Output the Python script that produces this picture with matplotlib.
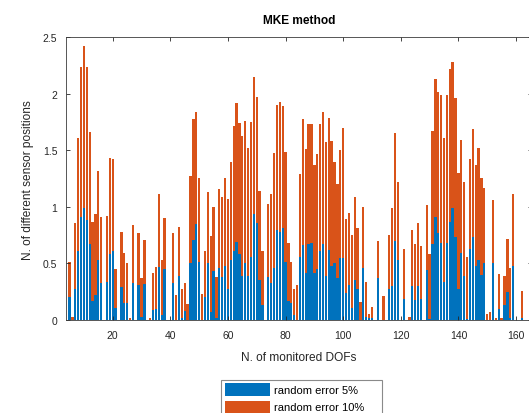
import numpy as np
import matplotlib.pyplot as plt

plt.rcParams['font.family'] = ['Liberation Sans', 'DejaVu Sans']

# monitored DOFs (5 ... 162)
dofs = np.arange(5, 163)

# stacked segments
err5 = [0.20, 0.00, 0.27, 0.61, 0.91, 0.99, 0.88, 0.67, 0.17, 0.22,
        0.53, 0.33, 0.00, 0.34, 0.58, 0.61, 0.11, 0.00, 0.29, 0.15,
        0.15, 0.00, 0.33, 0.00, 0.31, 0.03, 0.32, 0.00, 0.00, 0.09,
        0.10, 0.47, 0.04, 0.45, 0.00, 0.00, 0.33, 0.00, 0.39, 0.02,
        0.08, 0.00, 0.50, 0.71, 0.85, 0.51, 0.00, 0.20, 0.50, 0.07,
        0.43, 0.02, 0.46, 0.38, 0.48, 0.27, 0.53, 0.61, 0.69, 0.58,
        0.39, 0.50, 0.39, 0.56, 0.94, 0.86, 0.35, 0.13, 0.00, 0.38,
        0.33, 0.46, 0.80, 0.78, 0.81, 0.51, 0.17, 0.15, 0.04, 0.00,
        0.56, 0.66, 0.42, 0.67, 0.68, 0.42, 0.45, 0.61, 0.67, 0.39,
        0.62, 0.48, 0.50, 0.37, 0.55, 0.55, 0.24, 0.31, 0.11, 0.35,
        0.27, 0.00, 0.46, 0.03, 0.02, 0.015, 0.00, 0.37, 0.00, 0.00,
        0.00, 0.27, 0.30, 0.70, 0.53, 0.00, 0.19, 0.00, 0.00, 0.30,
        0.18, 0.30, 0.19, 0.00, 0.44, 0.01, 0.67, 0.91, 0.77, 0.68,
        0.34, 0.68, 0.87, 0.99, 0.73, 0.27, 0.59, 0.39, 0.01, 0.63,
        0.73, 0.48, 0.53, 0.40, 0.50, 0.00, 0.00, 0.50, 0.00, 0.10,
        0.00, 0.13, 0.25, 0.02, 0.48, 0.00, 0.00, 0.02]

err10 = [0.31, 0.03, 0.59, 1.00, 1.33, 1.43, 1.36, 0.99, 0.70, 0.72,
         0.79, 0.58, 0.00, 0.58, 0.85, 0.81, 0.34, 0.00, 0.49, 0.44,
         0.35, 0.02, 0.51, 0.00, 0.46, 0.34, 0.39, 0.00, 0.02, 0.33,
         0.37, 0.64, 0.49, 0.45, 0.00, 0.00, 0.44, 0.22, 0.43, 0.25,
         0.25, 0.14, 0.77, 1.07, 0.99, 0.75, 0.23, 0.41, 0.63, 0.67,
         0.57, 0.36, 0.70, 0.71, 0.78, 0.80, 0.87, 1.11, 1.23, 1.16,
         1.24, 1.26, 1.13, 1.19, 1.21, 1.11, 0.79, 0.48, 0.00, 0.65,
         0.78, 1.02, 1.10, 1.15, 1.08, 0.98, 0.51, 0.36, 0.23, 0.31,
         0.73, 1.12, 1.09, 1.06, 1.05, 0.95, 1.02, 1.12, 1.17, 1.18,
         1.17, 1.10, 0.90, 0.83, 0.95, 1.15, 0.65, 0.64, 0.64, 0.74,
         0.54, 0.16, 0.54, 0.31, 0.03, 0.10, 0.00, 0.33, 0.00, 0.21,
         0.00, 0.48, 0.69, 0.95, 0.69, 0.00, 0.44, 0.00, 0.03, 0.50,
         0.49, 0.56, 0.46, 0.00, 0.58, 0.57, 1.00, 1.22, 1.25, 1.31,
         1.27, 1.31, 1.35, 1.29, 1.23, 1.03, 1.00, 0.83, 0.55, 0.79,
         0.96, 0.89, 0.99, 0.86, 0.67, 0.05, 0.07, 0.56, 0.02, 0.31,
         0.02, 0.26, 0.47, 0.44, 0.63, 0.00, 0.00, 0.24]

series_labels = ['random error 5%', 'random error 10%']
xticks = [20, 40, 60, 80, 100, 120, 140, 160]
yticks = [0, 0.5, 1, 1.5, 2, 2.5]
ytick_labels = ['0', '0.5', '1', '1.5', '2', '2.5']

blue = '#0072BD'
orange = '#D95319'
dark = '#262626'

W, H = 529, 414
fig = plt.figure(figsize=(W / 100, H / 100), dpi=100)
ax = fig.add_axes([66.3 / W, 93 / H, (532 - 66.3) / W, (321 - 38.3) / H])

b1 = ax.bar(dofs, err5, width=0.8, color=blue, linewidth=0)
b2 = ax.bar(dofs, err10, width=0.8, bottom=err5, color=orange, linewidth=0)

ax.set_xlim(3.89, 165.55)
ax.set_ylim(0, 2.5)
ax.set_xticks(xticks)
ax.set_yticks(yticks, ytick_labels)
ax.tick_params(direction='in', length=3.2, width=0.6, color=dark,
               labelcolor=dark, labelsize=7.5, top=True, right=True)
ax.tick_params(axis='x', pad=7)
ax.tick_params(axis='y', pad=6.5)
for s in ax.spines.values():
    s.set_color('#3a3a3a')
    s.set_linewidth(0.6)

ax.set_title('MKE method', fontsize=8.6, fontweight='bold', color='black', pad=10)
ax.set_xlabel('N. of monitored DOFs', fontsize=8.6, color=dark, labelpad=8)
ax.set_ylabel('N. of different sensor positions', fontsize=8.6, color=dark, labelpad=6)

leg = fig.legend([b1, b2], series_labels, loc='upper left',
                 bbox_to_anchor=(221 / W, 1 - 381 / H, 161 / W, 0.001),
                 mode='expand', borderaxespad=0, fontsize=8, fancybox=False,
                 handlelength=4.1, handleheight=1.3, handletextpad=0.35,
                 labelspacing=0.45, borderpad=0.35, edgecolor='#8a8a8a',
                 framealpha=1)
leg.get_frame().set_linewidth(0.8)

fig.savefig('out.png', dpi=100)
